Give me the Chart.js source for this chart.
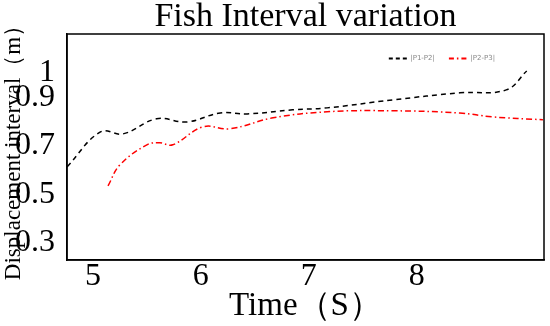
<!DOCTYPE html>
<html>
<head>
<meta charset="utf-8">
<script src="https://cdn.jsdelivr.net/npm/chart.js@4"></script>
<style>
  html, body { margin: 0; padding: 0; background: #fff; }
  #wrap { width: 550px; height: 326px; }
</style>
</head>
<body>
<div id="wrap"><canvas id="fishChart" width="550" height="326"></canvas></div>
<script>
// values
const timeP1P2 = [4.76, 5.07, 5.28, 5.59, 5.87, 6.18, 6.43, 6.85, 7.17, 7.78, 8.40, 8.83, 9.02];
const p1p2 = [0.613, 0.757, 0.749, 0.811, 0.798, 0.835, 0.831, 0.848, 0.856, 0.889, 0.918, 0.930, 1.008];

const timeP2P3 = [5.14, 5.25, 5.50, 5.62, 5.74, 6.02, 6.27, 6.67, 7.17, 7.78, 8.40, 8.70, 9.17];
const p2p3 = [0.535, 0.621, 0.704, 0.712, 0.704, 0.778, 0.770, 0.815, 0.840, 0.844, 0.835, 0.819, 0.807];

const xTicks = [5, 6, 7, 8];
const yTicks = [0.3, 0.5, 0.7, 0.9, 1];

const serif = 'Liberation Serif';

function toPoints(xs, ys) {
  return xs.map((x, i) => ({ x: x, y: ys[i] }));
}

// frame round the plot area
const frameBox = {
  id: 'frameBox',
  afterDraw(chart) {
    const a = chart.chartArea;
    const ctx = chart.ctx;
    ctx.save();
    ctx.strokeStyle = '#000';
    ctx.lineWidth = 1.5;
    ctx.strokeRect(a.left, a.top, a.right - a.left, a.bottom - a.top);
    ctx.restore();
  }
};

// legend takes no room and sits inside the plot, top right
const legendInPlot = {
  id: 'legendInPlot',
  beforeLayout(chart) {
    const lg = chart.legend;
    if (lg && !lg._noHeight) {
      const fit = lg.fit;
      lg.fit = function () { fit.call(this); this.height = 0; };
      lg._noHeight = true;
    }
  },
  afterLayout(chart) {
    const lg = chart.legend;
    if (!lg) return;
    lg.top = 41;
    lg.height = 28;
    lg.bottom = lg.top + lg.height;
    lg.right = 509;
    lg.width = lg.right - lg.left;
  }
};

new Chart(document.getElementById('fishChart').getContext('2d'), {
  type: 'line',
  data: {
    datasets: [{
      label: '|P1-P2|',
      data: toPoints(timeP1P2, p1p2),
      borderColor: '#000',
      borderWidth: 1.5,
      borderDash: [5, 4],
      pointRadius: 0,
      tension: 0.4,
      fill: false,
    }, {
      label: '|P2-P3|',
      data: toPoints(timeP2P3, p2p3),
      borderColor: '#ff0000',
      borderWidth: 1.5,
      borderDash: [6, 3, 1.5, 3],
      pointRadius: 0,
      tension: 0.4,
      fill: false,
    }],
  },
  options: {
    responsive: false,
    animation: false,
    layout: { padding: { top: 0, right: 6, bottom: 0, left: 0 } },
    plugins: {
      title: {
        display: true,
        text: 'Fish Interval variation',
        color: '#000',
        fullSize: false,
        font: { family: serif, size: 34, weight: 'normal', lineHeight: 1 },
        padding: 0,
      },
      legend: {
        position: 'top',
        align: 'end',
        fullSize: false,
        labels: {
          usePointStyle: true,
          pointStyle: 'line',
          pointStyleWidth: 18,
          boxHeight: 8,
          color: '#888',
          font: { family: 'DejaVu Sans', size: 7 },
          padding: 14,
          generateLabels: chart => Chart.defaults.plugins.legend.labels.generateLabels(chart)
            .map(item => Object.assign(item, {
              lineWidth: 2,
              lineDash: item.datasetIndex === 0 ? [4, 3] : [5, 3, 1.5, 3],
            })),
        },
      },
      tooltip: { enabled: false },
    },
    scales: {
      x: {
        type: 'linear',
        min: 4.76,
        max: 9.18,
        afterBuildTicks: s => { s.ticks = xTicks.map(v => ({ value: v })); },
        afterFit: s => { s.height = 66; },
        grid: { display: false },
        border: { display: true, color: '#000', width: 1.5 },
        ticks: {
          autoSkip: false,
          maxRotation: 0,
          padding: -11,
          color: '#000',
          font: { family: serif, size: 32 },
          callback: v => String(v),
        },
        title: {
          display: true,
          text: 'Time（S）',
          color: '#000',
          padding: 0,
          font: { family: serif, size: 33 },
        },
      },
      y: {
        type: 'linear',
        min: 0.23,
        max: 1.16,
        afterBuildTicks: s => { s.ticks = yTicks.map(v => ({ value: v })); },
        afterFit: s => { s.width = 67; },
        grid: { display: false },
        border: { display: true, color: '#000', width: 1.5 },
        ticks: {
          autoSkip: false,
          padding: 4,
          color: '#000',
          font: { family: serif, size: 32 },
          callback: v => String(v),
        },
        title: {
          display: true,
          text: 'Displacement interval（m）',
          color: '#000',
          padding: 0,
          font: { family: serif, size: 23 },
        },
      },
    },
  },
  plugins: [frameBox, legendInPlot],
});
</script>
</body>
</html>
